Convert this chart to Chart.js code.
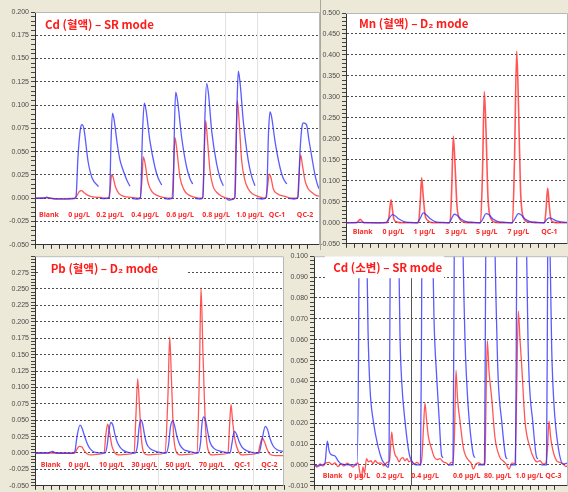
<!DOCTYPE html>
<html>
<head>
<meta charset="utf-8">
<script src="https://cdn.jsdelivr.net/npm/chart.js@4.4.1/dist/chart.umd.min.js"></script>
<style>
    body { margin: 0; background: #ece9d8; }
    #wrap { position: relative; width: 568px; height: 492px; overflow: hidden; }
    canvas { position: absolute; }
    .rule { position: absolute; background: #a8a8a0; }
</style>
</head>
<body>
<div id="wrap">
    <canvas id="cdBlood" width="320" height="251" style="left:0;top:0"></canvas>
    <canvas id="mnBlood" width="248" height="250" style="left:320px;top:0"></canvas>
    <canvas id="pbBlood" width="286" height="242" style="left:0;top:250px"></canvas>
    <canvas id="cdUrine" width="280" height="242" style="left:288px;top:250px"></canvas>
    <div class="rule" style="left:320px;top:0;width:1px;height:250px"></div>
</div>
<script>
// time (sample units from the left of each plot), signal
// Cd (혈액) – SR mode
const cdBloodBlue = [[0,0],[9,0],[11.7,0.0012],[15,0],[20,-0.0008],[30,-0.001],[39,-0.0005],
    [41,0.002],[43,0.045],[45.5,0.075],[47,0.079],[49,0.074],[53,0.04],[57,0.022],[63.5,0.0125],[64,null],
    [65,0],[69,-0.0005],[74.5,0.001],[76,0.06],[77.5,0.0915],[79,0.085],[82.3,0.058],[85,0.041],[88.3,0.0295],[92,0.019],[95,0.0128],[96,null],
    [97,0],[102,-0.001],[105.5,0.001],[107.5,0.07],[109.3,0.102],[111,0.095],[115,0.061],[120,0.033],[123,0.022],[126.7,0.0143],[128,null],
    [129,0],[134,-0.001],[138,0.001],[139.5,0.08],[140.7,0.114],[142.5,0.105],[146.7,0.065],[151.7,0.033],[155,0.021],[157.7,0.0153],[159,null],
    [160,0],[165,-0.0008],[168,0.001],[170,0.09],[171.7,0.1234],[173.5,0.112],[176.7,0.072],[181.7,0.0366],[185,0.022],[188.3,0.0135],[190,null],
    [191,0],[194,-0.002],[197,-0.0015],[200,0.001],[202,0.1],[203.3,0.1366],[205,0.125],[208.3,0.0827],[213.3,0.0401],[216.5,0.024],[220,0.0135],[221,null],
    [222,0],[227,-0.0008],[231.5,0.001],[233.5,0.07],[235,0.0926],[236.5,0.088],[240,0.0614],[245,0.033],[248,0.022],[251.7,0.0153],[253,null],
    [254,0],[259,-0.0008],[263,0.001],[265,0.05],[267,0.077],[268.5,0.081],[271.5,0.079],[274,0.062],[276.7,0.045],[280,0.025],[283.3,0.012],[286,0.008]];
const cdBloodRed = [[0,0],[11,0.0005],[20,-0.0005],[30,-0.0005],[40,0],[42,0.003],[44.5,0.0075],[46.5,0.0082],[49,0.006],[53,0.003],[58,0.0015],[65,0.0008],
    [73,0],[75,0.008],[76.7,0.0252],[78,0.023],[80.5,0.012],[84,0.005],[89,0.002],[96,0.001],
    [105,0],[107,0.02],[108.3,0.0444],[110,0.038],[113,0.017],[117,0.007],[122,0.003],[128,0.001],
    [137,0],[138.5,0.03],[140,0.065],[141.5,0.055],[145,0.0223],[149,0.009],[153,0.004],[160,0.001],
    [167.5,0],[169.3,0.05],[170.7,0.0834],[172.3,0.065],[175,0.0295],[178,0.013],[181.7,0.0064],[187,0.002],[192,0],[196,-0.001],
    [199.5,0],[201,0.06],[202.3,0.1047],[204,0.085],[206.7,0.04],[210,0.019],[213.3,0.01],[217,0.005],[223,0.002],
    [230.5,0],[232.5,0.012],[234.3,0.026],[236,0.022],[238.3,0.01],[242,0.005],[250,0.002],[257,0],
    [262.5,0],[264,0.025],[265.7,0.0465],[267.5,0.035],[270,0.019],[273,0.0105],[276.7,0.0064],[281,0.003],[286,0.002]];
const cdBloodNames = ['Blank', '0 µg/L', '0.2 µg/L', '0.4 µg/L', '0.6 µg/L', '0.8 µg/L', '1.0 µg/L', 'QC-1', 'QC-2'];
const cdBloodAt = [14, 44, 75, 110, 145, 181, 215, 242, 270];

// Mn (혈액) – D2 mode
const mnBloodBlue = [[0,0],[14,0.001],[34,0],[40,0.001],[43,0.01],[46.3,0.0197],[49,0.017],[53,0.009],[58,0.003],[64,0.001],
    [71,0],[74,0.01],[77.3,0.0237],[80,0.02],[84,0.01],[89,0.003],[96,0.001],
    [103,0],[105.5,0.01],[108.3,0.0204],[111,0.018],[115,0.009],[120,0.003],[127,0.001],
    [134,0],[137,0.01],[140,0.022],[143,0.019],[147,0.009],[152,0.003],[159,0.001],
    [166,0],[169,0.01],[172.3,0.022],[175,0.019],[179,0.009],[184,0.003],[191,0.001],
    [198,0],[200.5,0.007],[203,0.0118],[206,0.01],[210,0.005],[215,0.002],[222,0.001]];
const mnBloodRed = [[0,0],[10,0],[12,0.003],[14,0.0085],[16,0.004],[18,0],
    [41,0],[43,0.015],[45,0.055],[46.5,0.03],[48,0.008],[51,0.002],[56,0],
    [72.5,0],[74,0.04],[75.7,0.1073],[77,0.07],[79,0.02],[82,0.005],[87,0],
    [104,0],[105.7,0.08],[107.3,0.206],[109,0.14],[111,0.04],[114,0.008],[119,0.001],
    [134.5,0],[136.5,0.12],[138.3,0.3128],[140,0.22],[142,0.06],[145,0.01],[150,0.001],
    [166.5,0],[168.5,0.15],[170.7,0.409],[172.5,0.28],[174.5,0.08],[177.5,0.012],[182,0.002],
    [198.5,0],[200,0.03],[201.7,0.083],[203.3,0.04],[205,0.008],[208,0.001],[222,0]];
const mnBloodNames = ['Blank', '0 µg/L', '1 µg/L', '3 µg/L', '5 µg/L', '7 µg/L', 'QC-1'];
const mnBloodAt = [16.7, 47.3, 78.3, 110, 140.7, 172.3, 203.3];

// Pb (혈액) – D2 mode
const pbBloodBlue = [[0,0],[13,0],[17.7,0.0025],[21,0],[38,-0.0005],
    [40,0.003],[42,0.025],[45,0.0424],[47,0.038],[49.5,0.026],[51.7,0.0165],[54,0.009],[56.7,0.004],[60,0.001],
    [70,0],[72,0.01],[74,0.035],[76,0.0465],[78,0.042],[80,0.028],[82.3,0.0165],[85,0.009],[88.3,0.004],[93,0.001],
    [100,0],[102.5,0.012],[104,0.038],[105.7,0.0504],[107.5,0.045],[109.5,0.028],[111.7,0.014],[115,0.007],[120,0.003],[125,0.001],
    [131,0],[133.5,0.012],[135.5,0.04],[137.7,0.049],[139.5,0.042],[142,0.025],[145,0.012],[149,0.005],[153,0.003],[158,0.001],
    [163,0],[165.5,0.015],[167,0.045],[168.7,0.055],[170.5,0.05],[173,0.03],[175,0.0165],[179,0.007],[185,0.003],[191,0.001],
    [195,0],[197,0.015],[199.3,0.033],[201.5,0.029],[204,0.018],[207,0.009],[211,0.004],[217,0.001],
    [224,0],[227,0.02],[230.3,0.0405],[232.5,0.036],[235,0.022],[238,0.011],[242,0.005],[249,0.002]];
const pbBloodRed = [[0,0],[25,0],[40,0],[42,0.006],[44.3,0.01],[47,0.009],[49,0.004],[52,-0.001],[56,-0.003],[62,-0.002],
    [69,0],[71,0.03],[72.7,0.044],[74.5,0.032],[77,0.01],[80,0],[84,-0.003],[91,-0.002],
    [99,0],[101,0.06],[102.7,0.113],[104.5,0.07],[106.5,0.02],[109,0],[113,-0.003],[120,-0.002],
    [130,0],[133,0.09],[134.7,0.1765],[136.5,0.11],[138.5,0.03],[141,0.003],[145,-0.003],[153,-0.002],
    [162,0],[164.5,0.13],[166,0.2515],[168,0.15],[170.5,0.04],[173,0.005],[177,-0.003],[185,-0.002],
    [193,0],[194.5,0.04],[196,0.074],[197.5,0.05],[200,0.02],[203,0.004],[207,-0.003],[215,-0.002],
    [223,0],[225,0.012],[227.3,0.0225],[229.5,0.017],[232,0.006],[235,-0.002],[240,-0.004],[249,-0.004]];
const pbBloodNames = ['Blank', '0 µg/L', '10 µg/L', '30 µg/L', '50 µg/L', '70 µg/L', 'QC-1', 'QC-2'];
const pbBloodAt = [15.7, 44.3, 76.7, 109.3, 143.3, 176.7, 207.3, 234.3];

// Cd (소변) – SR mode
const cdUrineBlue = [[0,0],[4,-0.0005],[8,0],[11,0.001],[13.3,0.0114],[15,0.007],[16.7,0.0051],[21,0.0043],[24,0.002],[27,0.0005],[36,0],
    [43,0],[44.5,0.05],[46,0.2],[49,0.25],[52,0.13],[54,0.065],[56,0.0367],[59.3,0.021],[64.3,0.0083],[68,0.0025],[71,0.0004],[74.3,-0.0012],
    [75,0.002],[76,0.08],[78,0.25],[81,0.25],[84,0.13],[86,0.062],[87.7,0.04],[91,0.021],[95.3,0.005],[97.7,0.002],[102,0],
    [106.5,0],[107.5,0.06],[109,0.22],[114,0.25],[117,0.15],[120,0.07],[122.7,0.042],[125,0.0233],[127.7,0.0043],[129.3,0.0035],[131,null],
    [134,0],[139,0],[140,0.08],[142,0.25],[146,0.25],[148.5,0.12],[151,0.06],[152.7,0.04],[155.3,0.021],[159.3,0.005],[161,0.0035],[162,null],
    [164,0],[170.5,0],[171.5,0.08],[173.5,0.25],[178,0.25],[180.5,0.12],[183,0.06],[184.3,0.04],[187.7,0.021],[192,0.0035],[193.3,0.003],[194,null],
    [196,0],[201.5,0],[202.5,0.08],[204.5,0.25],[209.5,0.25],[212,0.12],[214,0.06],[215.3,0.04],[218.7,0.021],[222.7,0.0035],[224,0.003],[225,null],
    [227,0],[232.5,0],[233.5,0.08],[234.5,0.18],[235.5,0.12],[236.5,0.09],[237.7,0.0556],[240,0.0288],[244.3,0.0083],[249.3,0.0004],[254,0.001]];
const cdUrineRed = [[0,0],[3,-0.001],[6,0.0005],[9,-0.0005],[12,0.001],[15,0.0012],[18,0.0002],[21,0.001],[24,-0.0008],[27,0.0005],[30,-0.0005],
    [33,0.0008],[36,0],[39,-0.001],[42,0.0005],[44,0.001],[46,-0.004],[47.5,-0.006],[49,-0.001],[50.5,-0.004],[52.5,0.003],[54.5,0.0015],
    [57,0.002],[59,0.0005],[61,0.002],[64,0.0008],[67,0.001],[70,-0.0005],[73,0.0012],[75.5,0.002],[77.7,0.0158],[79,0.01],[81,0.005],
    [83,0.0035],[85,0.0015],[87,0.003],[89,0.0035],[91,0.002],[93,0.003],[95,0.0015],[97,0.002],[100,0.0005],[103,0.0012],[106,0],
    [108,0.004],[109.5,0.018],[111,0.0296],[112.5,0.022],[114.3,0.0138],[117.7,0.0075],[120,0.004],[123,0.0025],[126,0.003],[129,0.0015],
    [132,0.001],[135,0],[137,0.0012],[139,0.001],[140.5,0.015],[142,0.0453],[143.5,0.032],[146,0.021],[149.3,0.0083],[152,0.004],[155,0.002],
    [157,0.001],[159.3,-0.002],[162,0.0005],[165,0.001],[168,0.0002],[171,0.001],[172,0.03],[173.3,0.0595],[175,0.045],[177.7,0.032],
    [181,0.013],[186,0.0035],[189,0.002],[192,0.0005],[195,-0.002],[198,0.001],[201,0.0005],[202.5,0.03],[204.3,0.0737],[206,0.06],
    [207.7,0.0477],[211,0.021],[216,0.0083],[220,0.003],[223,0.0015],[226,0.002],[229,0.0005],[232,0.001],[233.5,0.008],[235,0.021],
    [236.5,0.014],[237.7,0.0098],[240,0.005],[242.7,0.002],[246,0.0012],[249,0.0005],[252,-0.0008],[254,0]];
const cdUrineNames = ['Blank', '0 µg/L', '0.2 µg/L', '0.4 µg/L', '0.6 µg/L', '80. µg/L', '1.0 µg/L', 'QC-3'];
const cdUrineAt = [18.7, 45.3, 76, 111, 152.7, 183.7, 215.3, 239.3];

Chart.defaults.font.family = '"Liberation Sans", Arial, sans-serif';

let toPoints = (pairs) => pairs.map(p => ({x: p[0], y: p[1]}));

let panelDecor = {
    id: 'panelDecor',
    beforeDraw: (chart) => {
        let {ctx, chartArea: a} = chart;
        ctx.save();
        ctx.fillStyle = '#ffffff';
        ctx.fillRect(a.left, a.top, a.right - a.left, a.bottom - a.top);
        ctx.restore();
    },
    beforeDatasetsDraw: (chart, args, opts) => {
        let {ctx, chartArea: a, scales: {x}} = chart;
        ctx.save();
        ctx.lineWidth = 1;
        (opts.cuts || []).forEach(c => {
            let px = Math.round(x.getPixelForValue(c.at)) + 0.5;
            ctx.strokeStyle = c.color;
            ctx.beginPath();
            ctx.moveTo(px, a.top);
            ctx.lineTo(px, a.bottom);
            ctx.stroke();
        });
        ctx.restore();
    },
    afterDatasetsDraw: (chart, args, opts) => {
        let {ctx, chartArea: a, scales: {x, y}} = chart;
        ctx.save();

        ctx.strokeStyle = '#b8b8b8';
        ctx.lineWidth = 1;
        ctx.beginPath();
        ctx.moveTo(a.left, a.top + 0.5);
        ctx.lineTo(a.right - 0.5, a.top + 0.5);
        ctx.lineTo(a.right - 0.5, a.bottom);
        ctx.stroke();

        ctx.font = 'bold 7px "Noto Sans", sans-serif';
        ctx.fillStyle = '#ff2a2a';
        ctx.textAlign = 'center';
        ctx.textBaseline = 'middle';
        opts.names.forEach((name, i) => {
            ctx.fillText(name, x.getPixelForValue(opts.at[i]), y.getPixelForValue(opts.labelY));
        });

        if (opts.box) {
            let b = opts.box;
            ctx.fillStyle = '#ffffff';
            ctx.fillRect(a.left + b[0], a.top + b[1], b[2] - b[0], b[3] - b[1]);
        }
        ctx.font = 'bold 11.5px "Noto Sans CJK KR", sans-serif';
        ctx.fillStyle = '#ff1a1a';
        ctx.textAlign = 'left';
        ctx.fillText(opts.title, a.left + opts.titleAt[0], a.top + opts.titleAt[1]);
        ctx.restore();
    }
};

let makePanel = (id, cfg) => {

    let isMajor = v => Math.abs(v / cfg.major - Math.round(v / cfg.major)) < 1e-6;
    let inside = v => v > cfg.min + 1e-9 && v < cfg.max - 1e-9;

    return new Chart(document.getElementById(id), {
        type: 'line',
        data: {
            datasets: [
                {
                    data: toPoints(cfg.blue),
                    borderColor: 'rgba(45, 45, 255, 0.78)',
                    borderWidth: 1.3,
                    clip: 0
                },
                {
                    data: toPoints(cfg.red),
                    borderColor: 'rgba(255, 40, 40, 0.78)',
                    borderWidth: cfg.redWidth || 1.3,
                    clip: 0
                }
            ]
        },
        options: {
            responsive: false,
            animation: false,
            devicePixelRatio: 1,
            layout: { padding: cfg.pad },
            elements: {
                point: { radius: 0 },
                line: { cubicInterpolationMode: 'monotone' }
            },
            plugins: {
                legend: { display: false },
                tooltip: { enabled: false },
                panelDecor: {
                    names: cfg.names,
                    at: cfg.at,
                    labelY: cfg.labelY,
                    title: cfg.title,
                    titleAt: cfg.titleAt,
                    box: cfg.box,
                    cuts: cfg.cuts
                }
            },
            scales: {
                x: {
                    type: 'linear',
                    min: 0,
                    max: cfg.span,
                    afterFit: s => { s.height = 4; },
                    ticks: { display: false, stepSize: 8 },
                    grid: { drawOnChartArea: false, tickLength: 4, color: '#333', tickColor: '#333' },
                    border: { color: '#333' }
                },
                y: {
                    min: cfg.min,
                    max: cfg.max,
                    afterFit: s => { s.width = cfg.axisWidth; },
                    ticks: {
                        stepSize: cfg.minor,
                        autoSkip: false,
                        padding: 2,
                        color: '#4a4a4a',
                        font: { size: 7 },
                        callback: v => (isMajor(v) && !(cfg.hideTop && v >= cfg.max - 1e-9)) ? v.toFixed(3) : ''
                    },
                    grid: {
                        tickLength: 4,
                        tickColor: '#444',
                        color: c => (c.tick && isMajor(c.tick.value) && inside(c.tick.value)) ? '#4d4d4d' : 'rgba(0,0,0,0)'
                    },
                    border: { color: '#333', dash: [2, 2] }
                }
            }
        },
        plugins: [panelDecor]
    });
};

makePanel('cdBlood', {
    blue: cdBloodBlue, red: cdBloodRed, names: cdBloodNames, at: cdBloodAt,
    span: 285, min: -0.05, max: 0.2, major: 0.025, minor: 0.005, axisWidth: 35,
    pad: { top: 12, right: 0, left: 0, bottom: 0 }, labelY: -0.018,
    title: 'Cd (혈액) – SR mode', titleAt: [10, 13],
    cuts: [{at: 190, color: '#e2e2e2'}, {at: 222, color: '#e2e2e2'}]
});

makePanel('mnBlood', {
    blue: mnBloodBlue, red: mnBloodRed, names: mnBloodNames, at: mnBloodAt,
    span: 222, min: -0.05, max: 0.5, major: 0.05, minor: 0.01, axisWidth: 26,
    pad: { top: 13, right: 0, left: 0, bottom: 0 }, labelY: -0.023, redWidth: 1.6,
    title: 'Mn (혈액) – D₂ mode', titleAt: [13, 11]
});

makePanel('pbBlood', {
    blue: pbBloodBlue, red: pbBloodRed, names: pbBloodNames, at: pbBloodAt,
    span: 249, min: -0.05, max: 0.3, major: 0.025, minor: 0.005, axisWidth: 35, hideTop: true,
    pad: { top: 4, right: 2, left: 0, bottom: 0 }, labelY: -0.0186,
    title: 'Pb (혈액) – D₂ mode', titleAt: [15.7, 12.7], box: [3, 3, 152, 23],
    cuts: [{at: 123, color: '#e2e2e2'}, {at: 218, color: '#e2e2e2'}]
});

makePanel('cdUrine', {
    blue: cdUrineBlue, red: cdUrineRed, names: cdUrineNames, at: cdUrineAt,
    span: 254, min: -0.01, max: 0.1, major: 0.01, minor: 0.002, axisWidth: 26,
    pad: { top: 6, right: 0, left: 0, bottom: 0 }, labelY: -0.0051,
    title: 'Cd (소변) – SR mode', titleAt: [19.3, 11.7], box: [11, 0, 130, 22],
    cuts: [{at: 97, color: '#555555'}]
});
</script>
</body>
</html>
